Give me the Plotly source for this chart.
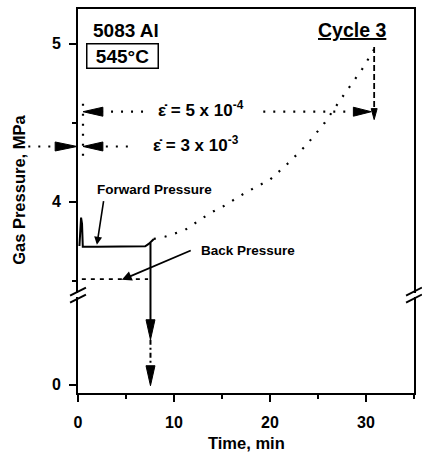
import plotly.graph_objects as go

# ---------------- data ----------------
fwd_time = [0.15, 0.25, 0.32, 0.42, 0.5, 2.0, 4.0, 6.0, 7.0, 7.4, 7.9]
fwd_pressure = [3.72, 3.88, 3.90, 3.86, 3.715, 3.715, 3.715, 3.715, 3.718, 3.735, 3.765]

cont_time = [7.9, 9.1, 11.1, 13.8, 15.1, 17.5, 20.0, 22.0, 23.8, 25.7, 27.5, 29.6, 30.9]
cont_pressure = [3.765, 3.78, 3.82, 3.93, 3.97, 4.06, 4.14, 4.25, 4.36, 4.50, 4.66, 4.84, 4.97]

back_time = [0.4, 7.3]
back_pressure = [3.51, 3.51]

strain_levels = [4.57, 4.35]          # MPa for 5e-4 and 3e-3
release_time = 7.55                   # min, vertical release arrow
end_time = 30.85                      # min, end of cycle

x_ticks = [0, 10, 20, 30]
y_tick_labels = ["0", "4", "5"]

# ---------------- layout constants ----------------
W, H = 422, 456
ML, MR, MT, MB = 78, 6, 9, 63
PW, PH = W - ML - MR, H - MT - MB
X_RANGE = (0, 35)
Y_RANGE = (2.79, 5.22)
Y_ZERO = 2.842          # display position of the 0 MPa tick (broken axis)
Y_BREAK = 3.41

FONT = "Liberation Sans, Arial, Helvetica, sans-serif"


def to_paper(t, p):
    return ((t - X_RANGE[0]) / (X_RANGE[1] - X_RANGE[0]),
            (p - Y_RANGE[0]) / (Y_RANGE[1] - Y_RANGE[0]))


def head(t, p, direction, length=20, width=9):
    xp, yp = to_paper(t, p)
    dx, dy = {"left": (1, 0), "right": (-1, 0), "down": (0, 1), "up": (0, -1)}[direction]
    bx = xp + dx * length / PW
    by = yp + dy * length / PH
    qx, qy = -dy, dx
    b1 = (bx + qx * width / 2 / PW, by + qy * width / 2 / PH)
    b2 = (bx - qx * width / 2 / PW, by - qy * width / 2 / PH)
    path = f"M {xp},{yp} L {b1[0]},{b1[1]} L {b2[0]},{b2[1]} Z"
    return dict(type="path", xref="paper", yref="paper", path=path,
                fillcolor="black", line=dict(color="black", width=1), layer="above")


fig = go.Figure()

# forward pressure (solid)
fig.add_trace(go.Scatter(x=fwd_time, y=fwd_pressure, mode="lines",
                         line=dict(color="black", width=2), hoverinfo="skip"))
# continuation (dotted)
fig.add_trace(go.Scatter(x=cont_time, y=cont_pressure, mode="lines",
                         line=dict(color="black", width=2.2, dash="2px,9px"), hoverinfo="skip"))
# back pressure (dashed)
fig.add_trace(go.Scatter(x=back_time, y=back_pressure, mode="lines",
                         line=dict(color="black", width=1.8, dash="4px,5px"), hoverinfo="skip"))

# release vertical solid line and dash-dot continuation
fig.add_trace(go.Scatter(x=[release_time, release_time], y=[3.74, 3.20], mode="lines",
                         line=dict(color="black", width=2), hoverinfo="skip"))
fig.add_trace(go.Scatter(x=[release_time, release_time], y=[3.127, 2.97], mode="lines",
                         line=dict(color="black", width=2, dash="5px,3px,2px,3px"), hoverinfo="skip"))

# strain-rate dotted guide lines
dotted = dict(color="black", width=2.2, dash="2px,8px")
fig.add_trace(go.Scatter(x=[2.4, 7.5], y=[strain_levels[0]] * 2, mode="lines", line=dotted, hoverinfo="skip"))
fig.add_trace(go.Scatter(x=[19.3, 28.4], y=[strain_levels[0]] * 2, mode="lines", line=dotted, hoverinfo="skip"))
fig.add_trace(go.Scatter(x=[2.9, 5.8], y=[strain_levels[1]] * 2, mode="lines", line=dotted, hoverinfo="skip"))
fig.add_trace(go.Scatter(x=[0.52, 0.52], y=[4.62, 4.28], mode="lines", line=dotted, hoverinfo="skip"))
# end vertical dashed
fig.add_trace(go.Scatter(x=[end_time, end_time], y=[4.98, 4.58], mode="lines",
                         line=dict(color="black", width=1.8, dash="6px,3px"), hoverinfo="skip"))

shapes = []
# arrowheads
shapes.append(head(0.52, strain_levels[0], "left"))
shapes.append(head(0.52, strain_levels[1], "left"))
shapes.append(head(-0.1, strain_levels[1], "right", length=22))
shapes.append(head(30.55, strain_levels[0], "right", length=18))
shapes.append(head(end_time, 4.52, "down", length=11, width=6))
shapes.append(head(release_time, 3.127, "down"))
shapes.append(head(release_time, Y_ZERO - 0.006, "down"))

# outside dotted segment to the left of the axis
yp_s = to_paper(0, strain_levels[1])[1]
shapes.append(dict(type="line", xref="paper", yref="paper",
                   x0=(28 - ML) / PW, x1=(52 - ML) / PW, y0=yp_s, y1=yp_s,
                   line=dict(color="black", width=2.2, dash="2px,8px")))

# axis break marks
ybp = to_paper(0, Y_BREAK)[1]
for xc in (0.0, 1.0):
    xgap = 4 / PW
    shapes.append(dict(type="rect", xref="paper", yref="paper",
                       x0=xc - xgap, x1=xc + xgap, y0=ybp - 2 / PH, y1=ybp + 2 / PH,
                       fillcolor="white", line=dict(width=0), layer="above"))
    for off in (-3.5, 3.5):
        shapes.append(dict(type="line", xref="paper", yref="paper",
                           x0=xc - 8 / PW, x1=xc + 8 / PW,
                           y0=ybp + (off - 4) / PH, y1=ybp + (off + 4) / PH,
                           line=dict(color="black", width=2), layer="above"))

annotations = []
def txt(text, t, p, size, **kw):
    d = dict(text=text, x=t, y=p, xref="x", yref="y", showarrow=False,
             xanchor="center", yanchor="middle",
             font=dict(family=FONT, size=size, color="black", weight="bold"))
    d.update(kw)
    annotations.append(d)

txt("5083 Al", 4.97, 5.082, 19)
txt("545°C", 4.66, 4.921, 19, bordercolor="black", borderwidth=1.5, borderpad=0,
    width=70, height=23)
txt("<u>Cycle 3</u>", 28.5, 5.089, 19.5)
txt("Forward Pressure", 7.97, 4.076, 13.5)
txt("Back Pressure", 17.7, 3.69, 13.5)
txt("\u03b5\u0307 = 5 x 10<sup>-4</sup>", 8.1, 4.585, 17, xanchor="left")
txt("\u03b5\u0307 = 3 x 10<sup>-3</sup>", 7.6, 4.365, 17, xanchor="left")

# pointer arrows
annotations.append(dict(x=1.97, y=3.728, ax=2.69, ay=4.013, xref="x", yref="y",
                        axref="x", ayref="y", text="", showarrow=True,
                        arrowhead=2, arrowsize=1, arrowwidth=1.6, arrowcolor="black", standoff=0))
annotations.append(dict(x=4.56, y=3.506, ax=11.9, ay=3.696, xref="x", yref="y",
                        axref="x", ayref="y", text="", showarrow=True,
                        arrowhead=2, arrowsize=1.1, arrowwidth=1.8, arrowcolor="black", standoff=0))

# axis titles
annotations.append(dict(text="Time, min", x=(247 - ML) / PW, y=(393 - 443) / PH,
                        xref="paper", yref="paper", showarrow=False,
                        xanchor="center", yanchor="middle",
                        font=dict(family=FONT, size=16.5, color="black", weight="bold")))
annotations.append(dict(text="Gas Pressure, MPa", x=(18.5 - ML) / PW, y=(393 - 190) / PH,
                        xref="paper", yref="paper", showarrow=False, textangle=-90,
                        xanchor="center", yanchor="middle",
                        font=dict(family=FONT, size=16.5, color="black", weight="bold")))

fig.update_layout(
    width=W, height=H,
    margin=dict(l=ML, r=MR, t=MT, b=MB, pad=0),
    paper_bgcolor="white", plot_bgcolor="white",
    showlegend=False,
    font=dict(family=FONT, color="black", weight="bold"),
    shapes=shapes, annotations=annotations,
    xaxis=dict(range=list(X_RANGE), showgrid=False, zeroline=False,
               showline=True, linecolor="black", linewidth=2, mirror=True,
               tickmode="array", tickvals=x_ticks, ticktext=[str(v) for v in x_ticks],
               ticks="outside", ticklen=7, tickwidth=1.5, tickcolor="black",
               ticklabelstandoff=7,
               tickfont=dict(family=FONT, size=16, color="black", weight="bold"),
               minor=dict(dtick=5, tick0=0, ticks="outside", ticklen=4, tickwidth=1.5,
                          tickcolor="black", showgrid=False)),
    yaxis=dict(range=list(Y_RANGE), showgrid=False, zeroline=False,
               showline=True, linecolor="black", linewidth=2, mirror=True,
               tickmode="array", tickvals=[Y_ZERO, 4, 5], ticktext=y_tick_labels,
               ticks="outside", ticklen=7, tickwidth=1.5, tickcolor="black",
               ticklabelstandoff=5,
               tickfont=dict(family=FONT, size=16, color="black", weight="bold"),
               minor=dict(tickmode="array", tickvals=[3.5, 4.5], ticks="outside", ticklen=4,
                          tickwidth=1.5, tickcolor="black", showgrid=False)),
)

fig.write_html("out.html")
